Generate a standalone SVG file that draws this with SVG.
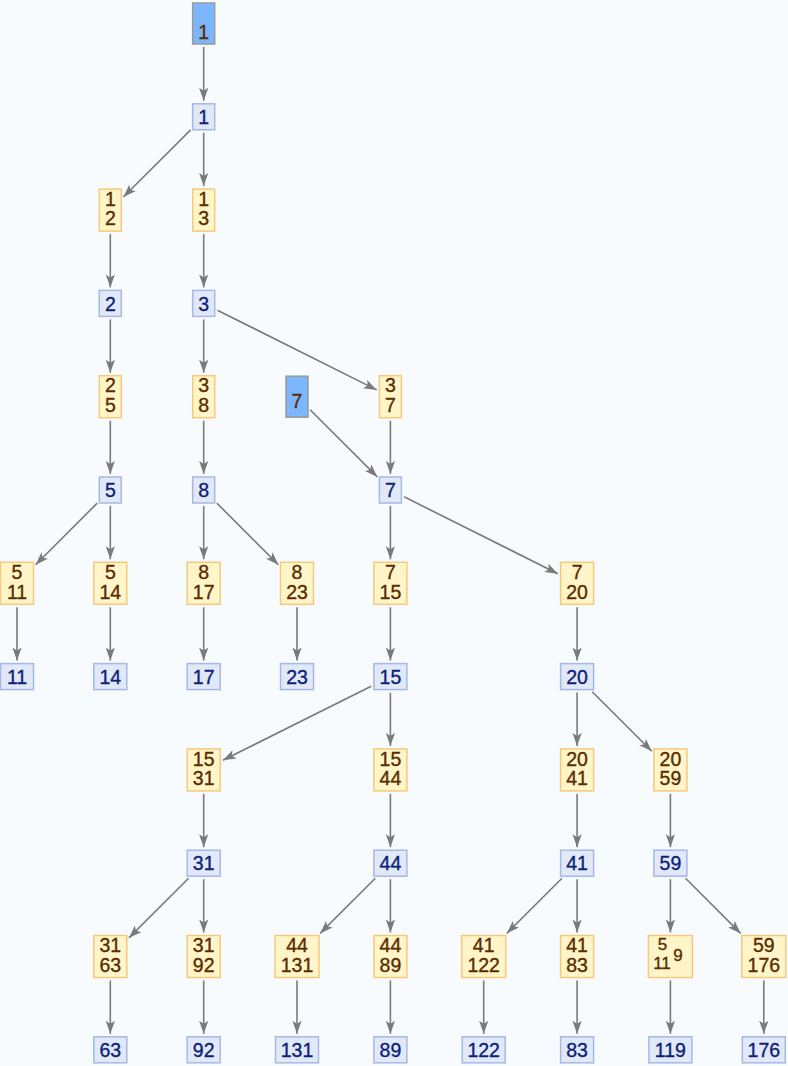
<svg xmlns="http://www.w3.org/2000/svg" width="788" height="1066" viewBox="0 0 788 1066">
<defs>
<style>
.b rect{fill:#e1e9f8;stroke:#a6b8e6;stroke-width:1.5}
.y rect{fill:#fff5c9;stroke:#f6c97c;stroke-width:1.5}
.d rect{fill:#7cb6ff;stroke:#9a9a9a;stroke-width:1.5}
text{font-family:"Liberation Sans",Arial,sans-serif;font-size:19.5px;text-anchor:middle;stroke-width:0.35px}
.b text{fill:#0e1f78;stroke:#0e1f78}
.y text,.d text{fill:#5a2c00;stroke:#5a2c00}
.y text.sm{font-size:17px}
#edges line{stroke:#7a7a7a;stroke-width:1.6;marker-end:url(#ah)}
</style>
<marker id="ah" markerUnits="userSpaceOnUse" markerWidth="14" markerHeight="10" refX="13" refY="5" orient="auto" viewBox="0 0 14 10">
<path d="M13,5 L0,0.4 L3,5 L0,9.6 Z" fill="#7a7a7a"/>
</marker>
</defs>
<rect width="788" height="1066" fill="#f8fbfd"/>
<g id="edges">
<line x1="203.7" y1="47" x2="203.7" y2="100.8"/>
<line x1="190.6" y1="129.9" x2="123.4" y2="197"/>
<line x1="203.7" y1="132.8" x2="203.7" y2="186.1"/>
<line x1="110.3" y1="234.1" x2="110.3" y2="287.4"/>
<line x1="203.7" y1="234.1" x2="203.7" y2="287.4"/>
<line x1="110.3" y1="319.4" x2="110.3" y2="372.7"/>
<line x1="203.7" y1="319.4" x2="203.7" y2="372.7"/>
<line x1="217.4" y1="310.2" x2="376.7" y2="389.9"/>
<line x1="110.3" y1="420.7" x2="110.3" y2="474"/>
<line x1="203.7" y1="420.7" x2="203.7" y2="474"/>
<line x1="390.4" y1="420.7" x2="390.4" y2="474"/>
<line x1="310.1" y1="409.8" x2="377.3" y2="476.9"/>
<line x1="97.2" y1="503.1" x2="35.6" y2="564.7"/>
<line x1="110.3" y1="506" x2="110.3" y2="559.3"/>
<line x1="203.7" y1="506" x2="203.7" y2="559.3"/>
<line x1="216.8" y1="503.1" x2="278.4" y2="564.7"/>
<line x1="390.4" y1="506" x2="390.4" y2="559.3"/>
<line x1="404.1" y1="496.8" x2="557.9" y2="573.7"/>
<line x1="17" y1="607.3" x2="17" y2="660.6"/>
<line x1="110.3" y1="607.3" x2="110.3" y2="660.6"/>
<line x1="203.7" y1="607.3" x2="203.7" y2="660.6"/>
<line x1="297" y1="607.3" x2="297" y2="660.6"/>
<line x1="390.4" y1="607.3" x2="390.4" y2="660.6"/>
<line x1="577.1" y1="607.3" x2="577.1" y2="660.6"/>
<line x1="371.2" y1="686.2" x2="222.9" y2="760.3"/>
<line x1="390.4" y1="692.6" x2="390.4" y2="745.9"/>
<line x1="577.1" y1="692.6" x2="577.1" y2="745.9"/>
<line x1="592.2" y1="691.7" x2="651.8" y2="751.3"/>
<line x1="203.7" y1="793.9" x2="203.7" y2="847.2"/>
<line x1="390.4" y1="793.9" x2="390.4" y2="847.2"/>
<line x1="577.1" y1="793.9" x2="577.1" y2="847.2"/>
<line x1="670.4" y1="793.9" x2="670.4" y2="847.2"/>
<line x1="188.6" y1="878.3" x2="128.9" y2="937.9"/>
<line x1="203.7" y1="879.2" x2="203.7" y2="932.5"/>
<line x1="375.3" y1="878.3" x2="320.1" y2="933.4"/>
<line x1="390.4" y1="879.2" x2="390.4" y2="932.5"/>
<line x1="562" y1="878.3" x2="506.8" y2="933.4"/>
<line x1="577.1" y1="879.2" x2="577.1" y2="932.5"/>
<line x1="670.4" y1="879.2" x2="670.4" y2="932.5"/>
<line x1="685.5" y1="878.3" x2="740.7" y2="933.4"/>
<line x1="110.3" y1="980.5" x2="110.3" y2="1033.8"/>
<line x1="203.7" y1="980.5" x2="203.7" y2="1033.8"/>
<line x1="297" y1="980.5" x2="297" y2="1033.8"/>
<line x1="390.4" y1="980.5" x2="390.4" y2="1033.8"/>
<line x1="483.7" y1="980.5" x2="483.7" y2="1033.8"/>
<line x1="577.1" y1="980.5" x2="577.1" y2="1033.8"/>
<line x1="670.4" y1="980.5" x2="670.4" y2="1033.8"/>
<line x1="763.8" y1="980.5" x2="763.8" y2="1033.8"/>
</g>
<g id="s1" class="d" transform="translate(203.7,23.5)"><rect x="-11" y="-20.5" width="22" height="41"/><text y="15">1</text></g>
<g id="s7" class="d" transform="translate(297,396.7)"><rect x="-11" y="-20.5" width="22" height="41"/><text y="11.5">7</text></g>
<g id="n1" class="b" transform="translate(203.7,116.8)"><rect x="-11" y="-13" width="22" height="26"/><text y="7.2">1</text></g>
<g id="n2" class="b" transform="translate(110.3,303.4)"><rect x="-11" y="-13" width="22" height="26"/><text y="7.2">2</text></g>
<g id="n3" class="b" transform="translate(203.7,303.4)"><rect x="-11" y="-13" width="22" height="26"/><text y="7.2">3</text></g>
<g id="n5" class="b" transform="translate(110.3,490)"><rect x="-11" y="-13" width="22" height="26"/><text y="7.2">5</text></g>
<g id="n8" class="b" transform="translate(203.7,490)"><rect x="-11" y="-13" width="22" height="26"/><text y="7.2">8</text></g>
<g id="n7" class="b" transform="translate(390.4,490)"><rect x="-11" y="-13" width="22" height="26"/><text y="7.2">7</text></g>
<g id="n11" class="b" transform="translate(17,676.6)"><rect x="-16.5" y="-13" width="33" height="26"/><text y="7.2">11</text></g>
<g id="n14" class="b" transform="translate(110.3,676.6)"><rect x="-16.5" y="-13" width="33" height="26"/><text y="7.2">14</text></g>
<g id="n17" class="b" transform="translate(203.7,676.6)"><rect x="-16.5" y="-13" width="33" height="26"/><text y="7.2">17</text></g>
<g id="n23" class="b" transform="translate(297,676.6)"><rect x="-16.5" y="-13" width="33" height="26"/><text y="7.2">23</text></g>
<g id="n15" class="b" transform="translate(390.4,676.6)"><rect x="-16.5" y="-13" width="33" height="26"/><text y="7.2">15</text></g>
<g id="n20" class="b" transform="translate(577.1,676.6)"><rect x="-16.5" y="-13" width="33" height="26"/><text y="7.2">20</text></g>
<g id="n31" class="b" transform="translate(203.7,863.2)"><rect x="-16.5" y="-13" width="33" height="26"/><text y="7.2">31</text></g>
<g id="n44" class="b" transform="translate(390.4,863.2)"><rect x="-16.5" y="-13" width="33" height="26"/><text y="7.2">44</text></g>
<g id="n41" class="b" transform="translate(577.1,863.2)"><rect x="-16.5" y="-13" width="33" height="26"/><text y="7.2">41</text></g>
<g id="n59" class="b" transform="translate(670.4,863.2)"><rect x="-16.5" y="-13" width="33" height="26"/><text y="7.2">59</text></g>
<g id="n63" class="b" transform="translate(110.3,1049.8)"><rect x="-16.5" y="-13" width="33" height="26"/><text y="7.2">63</text></g>
<g id="n92" class="b" transform="translate(203.7,1049.8)"><rect x="-16.5" y="-13" width="33" height="26"/><text y="7.2">92</text></g>
<g id="n131" class="b" transform="translate(297,1049.8)"><rect x="-21.5" y="-13" width="43" height="26"/><text y="7.2">131</text></g>
<g id="n89" class="b" transform="translate(390.4,1049.8)"><rect x="-16.5" y="-13" width="33" height="26"/><text y="7.2">89</text></g>
<g id="n122" class="b" transform="translate(483.7,1049.8)"><rect x="-21.5" y="-13" width="43" height="26"/><text y="7.2">122</text></g>
<g id="n83" class="b" transform="translate(577.1,1049.8)"><rect x="-16.5" y="-13" width="33" height="26"/><text y="7.2">83</text></g>
<g id="n119" class="b" transform="translate(670.4,1049.8)"><rect x="-21.5" y="-13" width="43" height="26"/><text y="7.2">119</text></g>
<g id="n176" class="b" transform="translate(763.8,1049.8)"><rect x="-21.5" y="-13" width="43" height="26"/><text y="7.2">176</text></g>
<g id="f1_2" class="y" transform="translate(110.3,210.1)"><rect x="-11" y="-21" width="22" height="42"/><text><tspan x="0" y="-4.3">1</tspan><tspan x="0" y="15.2">2</tspan></text></g>
<g id="f1_3" class="y" transform="translate(203.7,210.1)"><rect x="-11" y="-21" width="22" height="42"/><text><tspan x="0" y="-4.3">1</tspan><tspan x="0" y="15.2">3</tspan></text></g>
<g id="f2_5" class="y" transform="translate(110.3,396.7)"><rect x="-11" y="-21" width="22" height="42"/><text><tspan x="0" y="-4.3">2</tspan><tspan x="0" y="15.2">5</tspan></text></g>
<g id="f3_8" class="y" transform="translate(203.7,396.7)"><rect x="-11" y="-21" width="22" height="42"/><text><tspan x="0" y="-4.3">3</tspan><tspan x="0" y="15.2">8</tspan></text></g>
<g id="f3_7" class="y" transform="translate(390.4,396.7)"><rect x="-11" y="-21" width="22" height="42"/><text><tspan x="0" y="-4.3">3</tspan><tspan x="0" y="15.2">7</tspan></text></g>
<g id="f5_11" class="y" transform="translate(17,583.3)"><rect x="-16.5" y="-21" width="33" height="42"/><text><tspan x="0" y="-4.3">5</tspan><tspan x="0" y="15.2">11</tspan></text></g>
<g id="f5_14" class="y" transform="translate(110.3,583.3)"><rect x="-16.5" y="-21" width="33" height="42"/><text><tspan x="0" y="-4.3">5</tspan><tspan x="0" y="15.2">14</tspan></text></g>
<g id="f8_17" class="y" transform="translate(203.7,583.3)"><rect x="-16.5" y="-21" width="33" height="42"/><text><tspan x="0" y="-4.3">8</tspan><tspan x="0" y="15.2">17</tspan></text></g>
<g id="f8_23" class="y" transform="translate(297,583.3)"><rect x="-16.5" y="-21" width="33" height="42"/><text><tspan x="0" y="-4.3">8</tspan><tspan x="0" y="15.2">23</tspan></text></g>
<g id="f7_15" class="y" transform="translate(390.4,583.3)"><rect x="-16.5" y="-21" width="33" height="42"/><text><tspan x="0" y="-4.3">7</tspan><tspan x="0" y="15.2">15</tspan></text></g>
<g id="f7_20" class="y" transform="translate(577.1,583.3)"><rect x="-16.5" y="-21" width="33" height="42"/><text><tspan x="0" y="-4.3">7</tspan><tspan x="0" y="15.2">20</tspan></text></g>
<g id="f15_31" class="y" transform="translate(203.7,769.9)"><rect x="-16.5" y="-21" width="33" height="42"/><text><tspan x="0" y="-4.3">15</tspan><tspan x="0" y="15.2">31</tspan></text></g>
<g id="f15_44" class="y" transform="translate(390.4,769.9)"><rect x="-16.5" y="-21" width="33" height="42"/><text><tspan x="0" y="-4.3">15</tspan><tspan x="0" y="15.2">44</tspan></text></g>
<g id="f20_41" class="y" transform="translate(577.1,769.9)"><rect x="-16.5" y="-21" width="33" height="42"/><text><tspan x="0" y="-4.3">20</tspan><tspan x="0" y="15.2">41</tspan></text></g>
<g id="f20_59" class="y" transform="translate(670.4,769.9)"><rect x="-16.5" y="-21" width="33" height="42"/><text><tspan x="0" y="-4.3">20</tspan><tspan x="0" y="15.2">59</tspan></text></g>
<g id="f31_63" class="y" transform="translate(110.3,956.5)"><rect x="-16.5" y="-21" width="33" height="42"/><text><tspan x="0" y="-4.3">31</tspan><tspan x="0" y="15.2">63</tspan></text></g>
<g id="f31_92" class="y" transform="translate(203.7,956.5)"><rect x="-16.5" y="-21" width="33" height="42"/><text><tspan x="0" y="-4.3">31</tspan><tspan x="0" y="15.2">92</tspan></text></g>
<g id="f44_131" class="y" transform="translate(297,956.5)"><rect x="-22" y="-21" width="44" height="42"/><text><tspan x="0" y="-4.3">44</tspan><tspan x="0" y="15.2">131</tspan></text></g>
<g id="f44_89" class="y" transform="translate(390.4,956.5)"><rect x="-16.5" y="-21" width="33" height="42"/><text><tspan x="0" y="-4.3">44</tspan><tspan x="0" y="15.2">89</tspan></text></g>
<g id="f41_122" class="y" transform="translate(483.7,956.5)"><rect x="-22" y="-21" width="44" height="42"/><text><tspan x="0" y="-4.3">41</tspan><tspan x="0" y="15.2">122</tspan></text></g>
<g id="f41_83" class="y" transform="translate(577.1,956.5)"><rect x="-16.5" y="-21" width="33" height="42"/><text><tspan x="0" y="-4.3">41</tspan><tspan x="0" y="15.2">83</tspan></text></g>
<g id="f5_119" class="y" transform="translate(670.4,956.5)"><rect x="-22" y="-21" width="44" height="42"/><text class="sm"><tspan x="-8" y="-6.2">5</tspan><tspan x="-8.4" y="12.4">11</tspan><tspan x="7.6" y="4.9">9</tspan></text></g>
<g id="f59_176" class="y" transform="translate(763.8,956.5)"><rect x="-22" y="-21" width="44" height="42"/><text><tspan x="0" y="-4.3">59</tspan><tspan x="0" y="15.2">176</tspan></text></g>
</svg>
